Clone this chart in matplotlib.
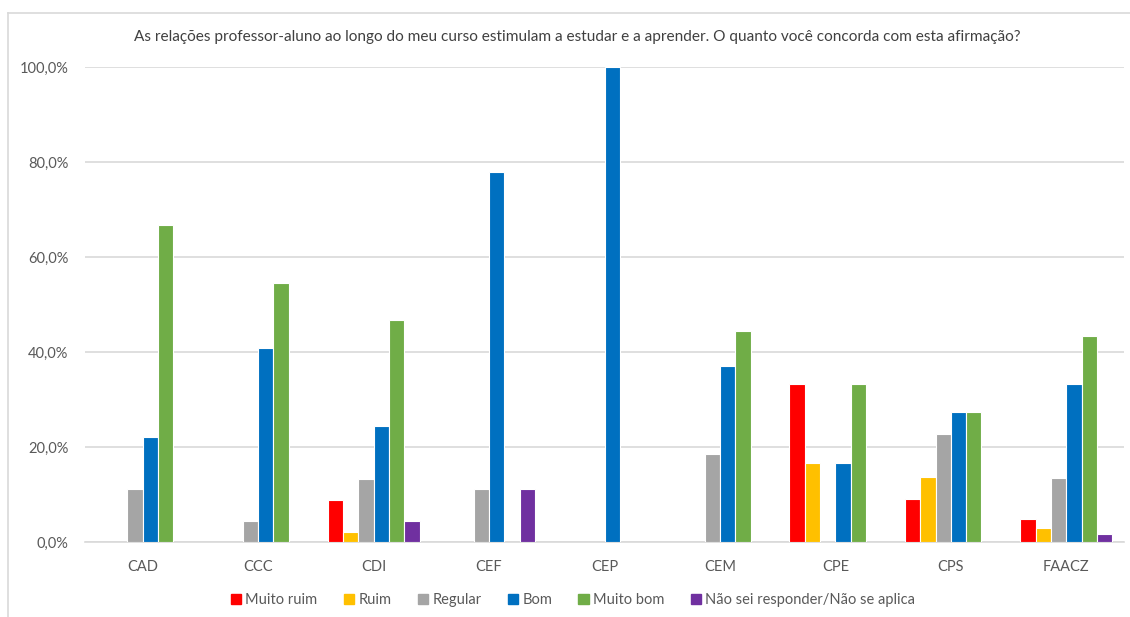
import numpy as np
import matplotlib
matplotlib.use("Agg")
import matplotlib.pyplot as plt
from matplotlib.lines import Line2D
from matplotlib.patches import Patch

plt.rcParams['font.family'] = ['Lato', 'DejaVu Sans']

title = "As relações professor-aluno ao longo do meu curso estimulam a estudar e a aprender. O quanto você concorda com esta afirmação?"
categories = ["CAD", "CCC", "CDI", "CEF", "CEP", "CEM", "CPE", "CPS", "FAACZ"]
series_names = ["Muito ruim", "Ruim", "Regular", "Bom", "Muito bom", "Não sei responder/Não se aplica"]
colors = ["#FF0000", "#FFC000", "#A5A5A5", "#0070C0", "#70AD47", "#7030A0"]

muito_ruim = [0.0, 0.0, 8.9, 0.0, 0.0, 0.0, 33.3, 9.1, 4.8]
ruim       = [0.0, 0.0, 2.2, 0.0, 0.0, 0.0, 16.7, 13.6, 3.0]
regular    = [11.1, 4.5, 13.3, 11.1, 0.0, 18.5, 0.0, 22.7, 13.5]
bom        = [22.2, 40.9, 24.4, 77.8, 100.0, 37.0, 16.7, 27.3, 33.3]
muito_bom  = [66.7, 54.5, 46.7, 0.0, 0.0, 44.4, 33.3, 27.3, 43.3]
nao_sei    = [0.0, 0.0, 4.4, 11.1, 0.0, 0.0, 0.0, 0.0, 1.7]
yticks = [0, 20, 40, 60, 80, 100]
ytick_labels = ["0,0%", "20,0%", "40,0%", "60,0%", "80,0%", "100,0%"]

series = [muito_ruim, ruim, regular, bom, muito_bom, nao_sei]

W, H = 1130, 617
fig = plt.figure(figsize=(W / 100, H / 100), dpi=100)
ax = fig.add_axes([85 / W, (H - 542) / H, (1124 - 85) / W, (542 - 67) / H])

x = np.arange(len(categories))
pitch = 0.1325
for i, (vals, col) in enumerate(zip(series, colors)):
    v = np.array(vals)
    m = v > 0
    ax.bar(x[m] + (i - 2.5) * pitch, v[m], width=pitch, color=col,
           edgecolor="white", linewidth=0.8, zorder=3)

ax.set_xlim(-0.5, len(categories) - 0.5)
ax.set_ylim(0, 100)
ax.set_yticks(yticks)
ax.set_yticklabels(ytick_labels)
ax.set_xticks(x)
ax.set_xticklabels(categories)
ax.grid(axis="y", color="#d9d9d9", linewidth=1.2, zorder=0)
ax.set_axisbelow(True)
for s in ["top", "right", "left"]:
    ax.spines[s].set_visible(False)
ax.spines["bottom"].set_color("#d9d9d9")
ax.spines["bottom"].set_linewidth(1.2)
ax.tick_params(axis="both", length=0, colors="#595959", labelsize=10.5)
ax.tick_params(axis="y", pad=12)
ax.tick_params(axis="x", pad=13)

fig.text(577 / W, 1 - 37 / H, title, ha="center", va="center",
         fontsize=11.1, color="#404040")

handles = [Patch(facecolor=c, edgecolor=c) for c in colors]
fig.legend(handles, series_names, loc="center", bbox_to_anchor=(573 / W, 1 - 600 / H),
           ncol=6, frameon=False, fontsize=10.5, labelcolor="#595959",
           handlelength=0.7, handleheight=0.7, handletextpad=0.3, columnspacing=1.8)

# chart-area border (partially visible in the crop)
fig.add_artist(Line2D([8 / W, 1], [1 - 13 / H, 1 - 13 / H], color="#d9d9d9", lw=1.2))
fig.add_artist(Line2D([8 / W, 8 / W], [0, 1 - 13 / H], color="#d9d9d9", lw=1.2))

fig.savefig("out.png", dpi=100)
